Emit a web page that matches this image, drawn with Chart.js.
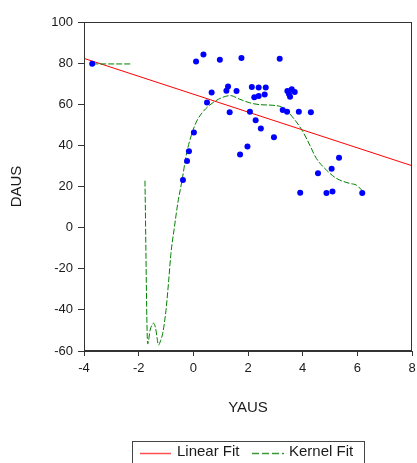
<!DOCTYPE html>
<html>
<head>
<meta charset="utf-8">
<script src="https://cdn.jsdelivr.net/npm/chart.js@4/dist/chart.umd.min.js"></script>
<style>
    body { margin: 0; background: #fff; }
    canvas { display: block; }
</style>
</head>
<body>
<canvas id="chart" width="417" height="463"></canvas>
<script>
// Scatter data (YAUS, DAUS)
const yausValues = [-3.70, 0.10, 0.37, 0.97, 1.76, 3.16, 0.67, 0.50, 1.27, 1.21, 1.58, 1.33, 2.07,
    0.02, 1.98, 1.71, -0.16, -0.23, -0.38, 2.14, 2.39, 2.65, 2.23, 2.39, 2.61, 3.44, 3.60, 3.71,
    3.50, 3.54, 3.27, 3.43, 3.86, 4.30, 2.28, 2.47, 2.95, 5.33, 5.06, 4.56, 3.91, 4.87, 5.09, 6.18];
const dausValues = [79.7, 80.8, 84.2, 81.7, 82.5, 82.1, 65.7, 60.8, 68.6, 66.6, 66.5, 56.1, 56.3,
    46.3, 39.5, 35.6, 37.2, 32.4, 23.2, 68.4, 68.1, 68.2, 63.4, 64.0, 64.8, 66.5, 67.3, 66.0,
    65.0, 63.7, 57.2, 56.4, 56.4, 56.1, 52.2, 48.2, 43.9, 34.0, 28.6, 26.4, 17.0, 16.8, 17.6, 16.8];

// Linear fit end points
const linearX = [-4, 8];
const linearY = [82.3, 30.1];

// Kernel fit curve (null = break in the line)
const kernelX = [-3.70, -2.25, -2.0, -1.77, -1.67, -1.58, -1.45, -1.38, -1.27, -1.20, -1.12, -1.00,
    -0.90, -0.82, -0.69, -0.57, -0.41, -0.26, -0.07, 0.11, 0.35, 0.72, 1.08, 1.35, 1.69, 2.06, 2.43,
    2.91, 3.22, 3.46, 3.77, 4.01, 4.26, 4.50, 4.87, 5.23, 5.72, 5.96, 6.18];
const kernelY = [79.6, 79.6, null, 22.8, -56.6, -49.8, -46.5, -49.0, -57.1, -55.0, -51.4, -40.1,
    -25.5, -12.6, 0.4, 11.8, 23.2, 35.3, 45.0, 51.4, 56.3, 60.8, 63.4, 64.2, 62.5, 60.7, 59.8,
    59.5, 58.7, 56.3, 51.4, 46.6, 40.1, 33.7, 28.0, 24.0, 21.5, 20.7, 18.0];

const xTicks = [-4, -2, 0, 2, 4, 6, 8];
const yTicks = [-60, -40, -20, 0, 20, 40, 60, 80, 100];

const toPoints = (xs, ys) => xs.map((x, i) => ({ x, y: ys[i] }));

const axisColor = '#333';
const textColor = '#1a1a1a';
const fontFamily = 'Arial, "Liberation Sans", sans-serif';

// Frame, axis titles and the boxed legend
const decorPlugin = {
    id: 'decor',
    afterDraw(chart) {
        const { ctx, chartArea: a } = chart;
        ctx.save();
        ctx.strokeStyle = axisColor;
        ctx.lineWidth = 1;
        ctx.strokeRect(a.left + 0.5, a.top + 0.5, a.right - a.left - 1, a.bottom - a.top - 1);

        ctx.fillStyle = textColor;
        ctx.font = '15px ' + fontFamily;
        ctx.textAlign = 'center';
        ctx.textBaseline = 'middle';
        ctx.fillText('YAUS', (a.left + a.right) / 2, 408);
        ctx.save();
        ctx.translate(17, (a.top + a.bottom) / 2);
        ctx.rotate(-Math.PI / 2);
        ctx.fillText('DAUS', 0, 0);
        ctx.restore();

        // legend
        ctx.strokeStyle = '#444';
        ctx.strokeRect(132.5, 441.5, 232, 40);
        ctx.textAlign = 'left';
        ctx.lineWidth = 1.5;
        ctx.strokeStyle = '#ff5050';
        ctx.beginPath();
        ctx.moveTo(140, 453.5);
        ctx.lineTo(171, 453.5);
        ctx.stroke();
        ctx.strokeStyle = '#3a9a3a';
        ctx.setLineDash([7, 3]);
        ctx.beginPath();
        ctx.moveTo(252, 453.5);
        ctx.lineTo(284, 453.5);
        ctx.stroke();
        ctx.setLineDash([]);
        ctx.fillText('Linear Fit', 177, 452);
        ctx.fillText('Kernel Fit', 289, 452);
        ctx.restore();
    }
};

new Chart(document.getElementById('chart'), {
    type: 'scatter',
    data: {
        datasets: [
            {
                label: 'DAUS',
                data: toPoints(yausValues, dausValues),
                backgroundColor: '#0000ff',
                borderWidth: 0,
                pointRadius: 3,
                order: 0,
            },
            {
                label: 'Linear Fit',
                data: toPoints(linearX, linearY),
                showLine: true,
                borderColor: '#ff0000',
                borderWidth: 1,
                pointRadius: 0,
                order: 2,
            },
            {
                label: 'Kernel Fit',
                data: toPoints(kernelX, kernelY),
                showLine: true,
                spanGaps: false,
                borderColor: '#008000',
                borderWidth: 1,
                borderDash: [6, 2],
                pointRadius: 0,
                cubicInterpolationMode: 'monotone',
                order: 1,
            },
        ],
    },
    options: {
        responsive: false,
        animation: false,
        layout: { padding: { top: 22, right: 5, left: 0, bottom: 0 } },
        plugins: {
            legend: { display: false },
            tooltip: { enabled: false },
        },
        scales: {
            x: {
                type: 'linear',
                min: -4,
                max: 8,
                afterBuildTicks: scale => { scale.ticks = xTicks.map(v => ({ value: v })); },
                afterFit: scale => {
                    scale.height = 112;
                    scale.paddingLeft = 0;
                    scale.paddingRight = 0;
                },
                ticks: { color: textColor, font: { size: 13, family: fontFamily }, padding: 5, maxRotation: 0 },
                grid: { drawOnChartArea: false, tickLength: 5, color: axisColor },
                border: { color: axisColor },
            },
            y: {
                min: -60,
                max: 100,
                afterBuildTicks: scale => { scale.ticks = yTicks.map(v => ({ value: v })); },
                afterFit: scale => {
                    scale.width = 84;
                    scale.paddingTop = 0;
                    scale.paddingBottom = 0;
                },
                ticks: { color: textColor, font: { size: 13, family: fontFamily }, padding: 5 },
                grid: { drawOnChartArea: false, tickLength: 6, color: axisColor },
                border: { color: axisColor },
            },
        },
    },
    plugins: [decorPlugin],
});
</script>
</body>
</html>
